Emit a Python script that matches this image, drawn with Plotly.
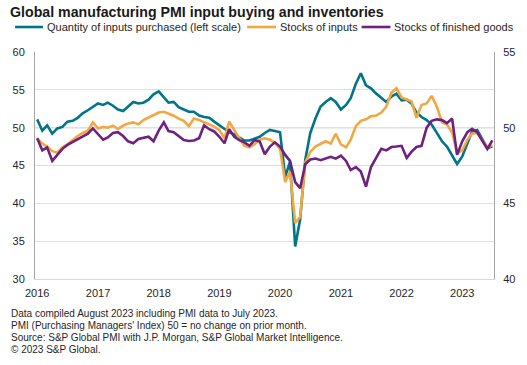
import pandas as pd
import plotly.graph_objects as go

# Monthly data, Jan 2016 - Jul 2023
months = pd.date_range("2016-01-01", "2023-07-01", freq="MS")

quantity_purchased = [  # left scale
    51.1, 49.6, 50.3, 49.2, 49.9, 50.1, 50.8, 50.9, 51.3, 51.9, 52.3, 52.7,
    53.2, 53.0, 53.3, 52.9, 52.4, 52.2, 52.8, 53.4, 53.2, 53.3, 53.7, 54.4,
    54.8, 54.0, 53.3, 53.4, 52.7, 52.4, 52.1, 52.1, 51.6, 51.4, 51.3, 50.8,
    50.3, 49.8, 49.4, 49.1, 48.7, 48.3, 48.3, 48.5, 48.8, 49.3, 49.7, 49.55,
    49.4, 43.5, 45.5, 34.3, 37.9, 45.8, 49.3, 51.2, 52.8, 53.4, 53.9, 53.4,
    52.4, 53.0, 53.9, 55.8, 57.2, 55.6, 55.2, 54.5, 53.9, 53.4, 54.1, 54.5,
    53.6, 53.7, 53.2, 52.0, 51.4, 51.0, 50.4, 49.3, 48.2, 47.5, 46.3, 45.2,
    46.2, 48.0, 49.5, 49.7, 48.6, 47.3, 47.5,
]

stocks_of_inputs = [  # right scale
    49.3, 48.95, 48.75, 48.45, 48.35, 48.7, 48.9, 49.2, 49.45, 49.65, 49.8, 50.35,
    49.95, 50.05, 50.0, 50.13, 49.91, 50.13, 50.28, 50.35, 50.22, 50.5, 50.66, 50.79,
    51.0, 51.05, 50.94, 50.79, 50.6, 50.45, 50.1, 50.6, 50.5, 50.35, 50.22, 50.07,
    49.84, 49.3, 50.4, 49.8, 49.3, 48.8, 48.7, 48.9, 49.2, 49.3, 49.2, 49.0,
    48.6, 46.4, 47.1, 43.7, 44.1, 47.7, 48.4, 48.75, 48.95, 49.1, 48.95, 49.6,
    48.9, 48.7, 49.2, 50.1, 50.45, 50.55, 50.75, 50.8, 51.0, 51.4, 52.3, 52.6,
    52.0, 51.85, 51.75, 50.65, 51.5, 51.6, 52.1, 51.4, 50.35, 50.2, 49.7, 48.3,
    48.5, 49.2, 49.6, 49.65, 49.2, 48.7, 48.85,
]

stocks_finished_goods = [  # right scale
    49.3, 48.5, 48.7, 47.8, 48.2, 48.6, 48.86, 49.05, 49.25, 49.4, 49.6, 49.95,
    49.55, 49.2, 49.35, 49.65, 49.7, 49.45, 49.1, 48.97, 49.25, 49.34, 49.4, 49.1,
    49.8, 50.35, 49.78, 49.7, 49.47, 49.18, 49.12, 49.15, 49.3, 50.15, 49.9, 49.75,
    49.4, 48.97, 49.9, 49.4, 49.18, 49.03, 48.8, 49.18, 49.08, 48.24, 48.75, 49.03,
    48.75, 48.2, 47.8, 46.4, 46.0, 47.6, 47.9, 47.96, 47.85, 47.95, 48.07, 47.95,
    48.15, 47.8, 47.2, 47.4, 47.1, 46.1, 47.4, 48.0, 48.6, 48.5, 48.72, 48.75,
    48.8, 48.0, 48.4, 48.72, 48.8, 50.0, 50.45, 50.55, 50.5, 50.3, 50.6, 48.2,
    49.1, 49.7, 49.93, 49.7, 49.16, 48.6, 49.16,
]

series_names = [
    "Quantity of inputs purchased (left scale)",
    "Stocks of inputs",
    "Stocks of finished goods",
]
colors = ["#00758a", "#f4a641", "#6e2180"]

left_ticks = [30, 35, 40, 45, 50, 55, 60]
right_ticks = [40, 45, 50, 55]
year_ticks = pd.date_range("2016-01-01", "2023-01-01", freq="YS")

footnote_lines = [
    "Data compiled August 2023 including PMI data to July 2023.",
    "PMI (Purchasing Managers' Index) 50 = no change on prior month.",
    "Source: S&P Global PMI with J.P. Morgan, S&P Global Market Intelligence.",
    "\u00a9 2023 S&P Global.",
]

FONT = "Liberation Sans, Arial, sans-serif"
TXT = "#262626"

W, H = 527, 365
L, R, T, B = 35, 31, 52, 86
pw, ph = W - L - R, H - T - B


def px_x(px):
    return (px - L) / pw


def px_y(py):
    return (H - B - py) / ph


fig = go.Figure()
fig.add_trace(go.Scatter(x=months, y=quantity_purchased, name=series_names[0],
                         mode="lines", line=dict(color=colors[0], width=2.6), yaxis="y"))
fig.add_trace(go.Scatter(x=months, y=stocks_of_inputs, name=series_names[1],
                         mode="lines", line=dict(color=colors[1], width=2.6), yaxis="y2"))
fig.add_trace(go.Scatter(x=months, y=stocks_finished_goods, name=series_names[2],
                         mode="lines", line=dict(color=colors[2], width=2.6), yaxis="y2"))

shapes = [
    dict(type="line", xref="paper", yref="y", x0=0, x1=1, y0=50, y1=50,
         line=dict(color="#8c8c8c", width=1), layer="below"),
]
annotations = []

# legend (manual)
leg_y = 27
leg_items = [(15, 43, 45), (248, 277, 279), (363, 392, 394)]
for (lx0, lx1, tx), name, col in zip(leg_items, series_names, colors):
    shapes.append(dict(type="line", xref="paper", yref="paper",
                       x0=px_x(lx0), x1=px_x(lx1), y0=px_y(leg_y), y1=px_y(leg_y),
                       line=dict(color=col, width=2.6)))
    annotations.append(dict(xref="paper", yref="paper", x=px_x(tx), y=px_y(leg_y),
                            xanchor="left", yanchor="middle", showarrow=False,
                            text=name, font=dict(family=FONT, size=11, color=TXT)))

for i, line in enumerate(footnote_lines):
    annotations.append(dict(xref="paper", yref="paper", x=px_x(9), y=px_y(313 + 12 * i),
                            xanchor="left", yanchor="middle", showarrow=False, align="left",
                            text=line, font=dict(family=FONT, size=10, color=TXT)))

fig.update_layout(
    width=W, height=H,
    margin=dict(l=L, r=R, t=T, b=B),
    paper_bgcolor="white", plot_bgcolor="white",
    showlegend=False,
    hovermode=False,
    title=dict(text="Global manufacturing PMI input buying and inventories",
               x=10 / W, xanchor="left", xref="container",
               y=1 - 12.5 / H, yanchor="middle", yref="container",
               font=dict(family=FONT, size=14.2, color="#1a1a1a", weight="bold")),
    xaxis=dict(
        range=[pd.Timestamp("2015-12-19"), pd.Timestamp("2023-07-11")],
        tickvals=year_ticks, ticktext=[str(d.year) for d in year_ticks],
        showgrid=False, zeroline=False, showline=True, linecolor="#d9d9d9", linewidth=1,
        ticks="", ticklabelstandoff=4, tickfont=dict(family=FONT, size=11, color=TXT),
    ),
    yaxis=dict(
        range=[30, 60], tickvals=left_ticks, showgrid=True, gridcolor="#e0e0e0", gridwidth=1,
        zeroline=False, showline=True, linecolor="#a6a6a6", linewidth=1,
        ticks="", ticklabelstandoff=7, tickfont=dict(family=FONT, size=11, color=TXT),
    ),
    yaxis2=dict(
        range=[40, 55], tickvals=right_ticks, overlaying="y", side="right",
        showgrid=False, zeroline=False, showline=True, linecolor="#a6a6a6", linewidth=1,
        ticks="", ticklabelstandoff=6, tickfont=dict(family=FONT, size=11, color=TXT),
    ),
    shapes=shapes,
    annotations=annotations,
)

fig.write_html("out.html",
               config={"displayModeBar": False, "staticPlot": True},
               post_script="document.body.style.margin='0';document.body.style.padding='0';")
